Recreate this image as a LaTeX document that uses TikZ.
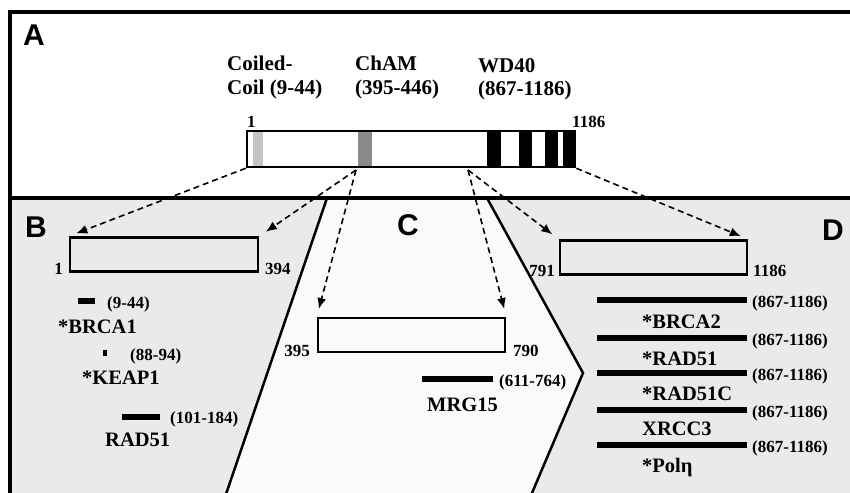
\documentclass[tikz,border=0pt]{standalone}
\usepackage{fontspec}
\setmainfont{Liberation Serif}
\newfontfamily\panelfont{Liberation Sans}
\usetikzlibrary{arrows.meta, positioning}
\definecolor{sidegrey}{HTML}{EAEAEA}
\definecolor{midgrey}{HTML}{FAFAFA}
\definecolor{coilgrey}{HTML}{C4C4C4}
\definecolor{chamgrey}{HTML}{8A8A8A}

\begin{document}
\begin{tikzpicture}[x=1pt, y=-1pt,
      panel/.style={font=\panelfont\bfseries\fontsize{30}{30}\selectfont, inner sep=0pt, anchor=base west},
      dom/.style={font=\bfseries\fontsize{21}{23.5}\selectfont, inner sep=0pt, align=left, anchor=north west},
      partner/.style={font=\bfseries\fontsize{20.5}{22}\selectfont, inner sep=0pt, anchor=base west},
      num/.style={font=\bfseries\fontsize{17}{19}\selectfont, inner sep=0pt},
      frag/.style={draw, line width=2.5pt, inner sep=0pt, minimum height=34pt},
      hit/.style={fill=black, inner sep=0pt, minimum height=6pt},
      zoomarrow/.style={-{Latex[length=11pt, width=9pt]}, dash pattern=on 6pt off 4pt,
                        line width=1.6pt, shorten >=8pt}]
      \clip (0,0) rectangle (850,492);
      % panel backgrounds
      \fill[sidegrey] (10,198) -- (327,198) -- (224,500) -- (10,500) -- cycle;
      \fill[midgrey] (327,198) -- (487,198) -- (583,373) -- (529,500) -- (224,500) -- cycle;
      \fill[sidegrey] (487,198) -- (860,198) -- (860,500) -- (529,500) -- (583,373) -- cycle;
      \draw[line width=2.5pt] (327,198) -- (224,500);
      \draw[line width=2.5pt] (487,198) -- (583,373) -- (529,500);
      \draw[line width=4pt] (10,500) -- (10,12) -- (860,12);
      \draw[line width=4pt] (10,198) -- (860,198);

      % full protein
      \node[panel] (labA) at (23,46) {A};
      \fill[coilgrey] (253,131) rectangle (263,167);
      \fill[chamgrey] (358,131) rectangle (372,167);
      \foreach \a/\b in {487/501, 519/532, 545/558, 563/575}
        \fill (\a,131) rectangle (\b,167);
      \node[draw, line width=2.5pt, inner sep=0pt, minimum width=328pt, minimum height=36pt] (prot) at (411,149) {};
      \node[dom] (coil) at (227,56) {Coiled-\\Coil (9-44)};
      \node[dom] (cham) at (355,56) {ChAM\\(395-446)};
      \node[dom] (wd40) at (478,58) {WD40\\(867-1186)};
      \node[num, anchor=base west] (protstart) at (247,127) {1};
      \node[num, anchor=base west] (protend) at (572,127) {1186};
      \coordinate (chamfoot) at (356,170);
      \coordinate (wdfoot) at (468,170);

      % B: 1-394
      \node[panel] (labB) at (25,237) {B};
      \node[frag, minimum width=188pt] (fragB) at (164,254.5) {};
      \node[num, anchor=base east] (fragBstart) at (63,274) {1};
      \node[num, anchor=base west] (fragBend) at (265,274) {394};
      \node[hit, minimum width=17pt] (brcaIbar) at (86.5,301) {};
      \node[num, anchor=base west] (brcaIrng) at (107,308) {(9-44)};
      \node[partner] (brcaI) at (58,333) {*BRCA1};
      \node[hit, minimum width=4pt] (keapbar) at (105,353) {};
      \node[num, anchor=base west] (keaprng) at (130,360) {(88-94)};
      \node[partner] (keap) at (82,384) {*KEAP1};
      \node[hit, minimum width=38pt] (radBbar) at (141,417) {};
      \node[num, anchor=base west] (radBrng) at (170,423) {(101-184)};
      \node[partner] (radB) at (105,446) {RAD51};

      % C: 395-790
      \node[panel] (labC) at (397,235) {C};
      \node[frag, minimum width=187pt] (fragC) at (411.5,335) {};
      \node[num, anchor=base east] (fragCstart) at (310,356) {395};
      \node[num, anchor=base west] (fragCend) at (513,356) {790};
      \node[hit, minimum width=71pt] (mrgbar) at (457.5,379) {};
      \node[num, anchor=base west] (mrgrng) at (499,386) {(611-764)};
      \node[partner] (mrg) at (427,411) {MRG15};

      % D: 791-1186
      \node[panel] (labD) at (822,240) {D};
      \node[frag, minimum width=187pt] (fragD) at (653.5,257.5) {};
      \node[num, anchor=base east] (fragDstart) at (555,276) {791};
      \node[num, anchor=base west] (fragDend) at (753,276) {1186};
      \foreach \y/\who/\base [count=\i] in {300/*BRCA2/328, 338/*RAD51/365, 373/*RAD51C/400,
                                             410/XRCC3/435, 445/*Polη/472} {
        \node[hit, minimum width=150pt] (wdbar\i) at (672,\y) {};
        \node[num, anchor=base west] (wdrng\i) at (752,\y+7) {(867-1186)};
        \node[partner] (wdpartner\i) at (642,\base) {\who};
      }

      % zoom-in arrows
      \draw[zoomarrow] (prot.south west) -- (fragB.north west);
      \draw[zoomarrow] (chamfoot) -- (fragB.north east);
      \draw[zoomarrow] (chamfoot) -- (fragC.north west);
      \draw[zoomarrow] (wdfoot) -- (fragC.north east);
      \draw[zoomarrow] (wdfoot) -- (fragD.north west);
      \draw[zoomarrow] (prot.south east) -- (fragD.north east);
    \end{tikzpicture}
\end{document}
